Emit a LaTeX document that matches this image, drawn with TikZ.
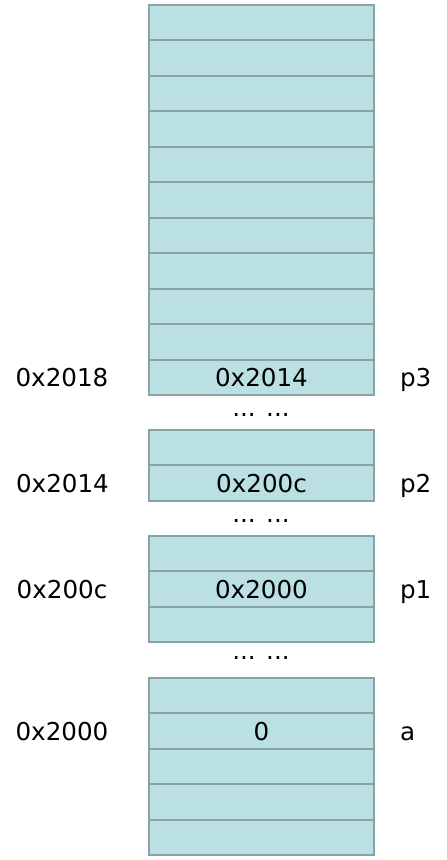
\documentclass[tikz,border=0pt]{standalone}
\usepackage{fontspec}
\setmainfont{DejaVu Sans}
\definecolor{cellfill}{HTML}{BBE0E3}
\definecolor{cellline}{HTML}{87A3A6}
\begin{document}
\begin{tikzpicture}[x=1pt,y=-1pt,
  txt/.style={font=\fontsize{24.6}{28}\selectfont, inner sep=0pt, outer sep=0pt, text height=17.9pt, text depth=0pt},
  cell/.style={txt, draw=cellline, fill=cellfill, line width=2pt, minimum width=225pt, minimum height=35.45pt},
  dots/.style={font=\fontsize{24.6}{28}\selectfont, inner sep=0pt, anchor=base},
  addr/.style={txt},
  var/.style={txt, anchor=west}]
\useasboundingbox (0,0) rectangle (447,860);
% top block: 11 rows
\foreach \i in {0,...,9} {
  \node[cell] (t\i) at (261.5,{5+35.45*(\i+0.5)}) {};
}
\node[cell] (t10) at (261.5,{5+35.45*10.5}) {0x2014};
% block 2
\node[cell] (b0) at (261.5,{430+35.45*0.5}) {};
\node[cell] (b1) at (261.5,{430+35.45*1.5}) {0x200c};
% block 3
\node[cell] (c0) at (261.5,{536+35.45*0.5}) {};
\node[cell] (c1) at (261.5,{536+35.45*1.5}) {0x2000};
\node[cell] (c2) at (261.5,{536+35.45*2.5}) {};
% block 4
\node[cell] (d0) at (261.5,{678+35.45*0.5}) {};
\node[cell] (d1) at (261.5,{678+35.45*1.5}) {0};
\node[cell] (d2) at (261.5,{678+35.45*2.5}) {};
\node[cell] (d3) at (261.5,{678+35.45*3.5}) {};
\node[cell] (d4) at (261.5,{678+35.45*4.5}) {};
% dots
\node[dots] (g1) at (261,416) {... ...};
\node[dots] (g2) at (261,522.5) {... ...};
\node[dots] (g3) at (261,659) {... ...};
% addresses
\node[addr] (a3) at ([xshift=-199.5pt]t10.center) {0x2018};
\node[addr] (a2) at ([xshift=-199pt]b1.center) {0x2014};
\node[addr] (a1) at ([xshift=-199.5pt]c1.center) {0x200c};
\node[addr] (a0) at ([xshift=-199.5pt]d1.center) {0x2000};
% variables
\node[var] (p3) at ([xshift=26pt]t10.east) {p3};
\node[var] (p2) at ([xshift=26pt]b1.east) {p2};
\node[var] (p1) at ([xshift=26pt]c1.east) {p1};
\node[var] (va) at ([xshift=26pt]d1.east) {a};
\end{tikzpicture}
\end{document}
